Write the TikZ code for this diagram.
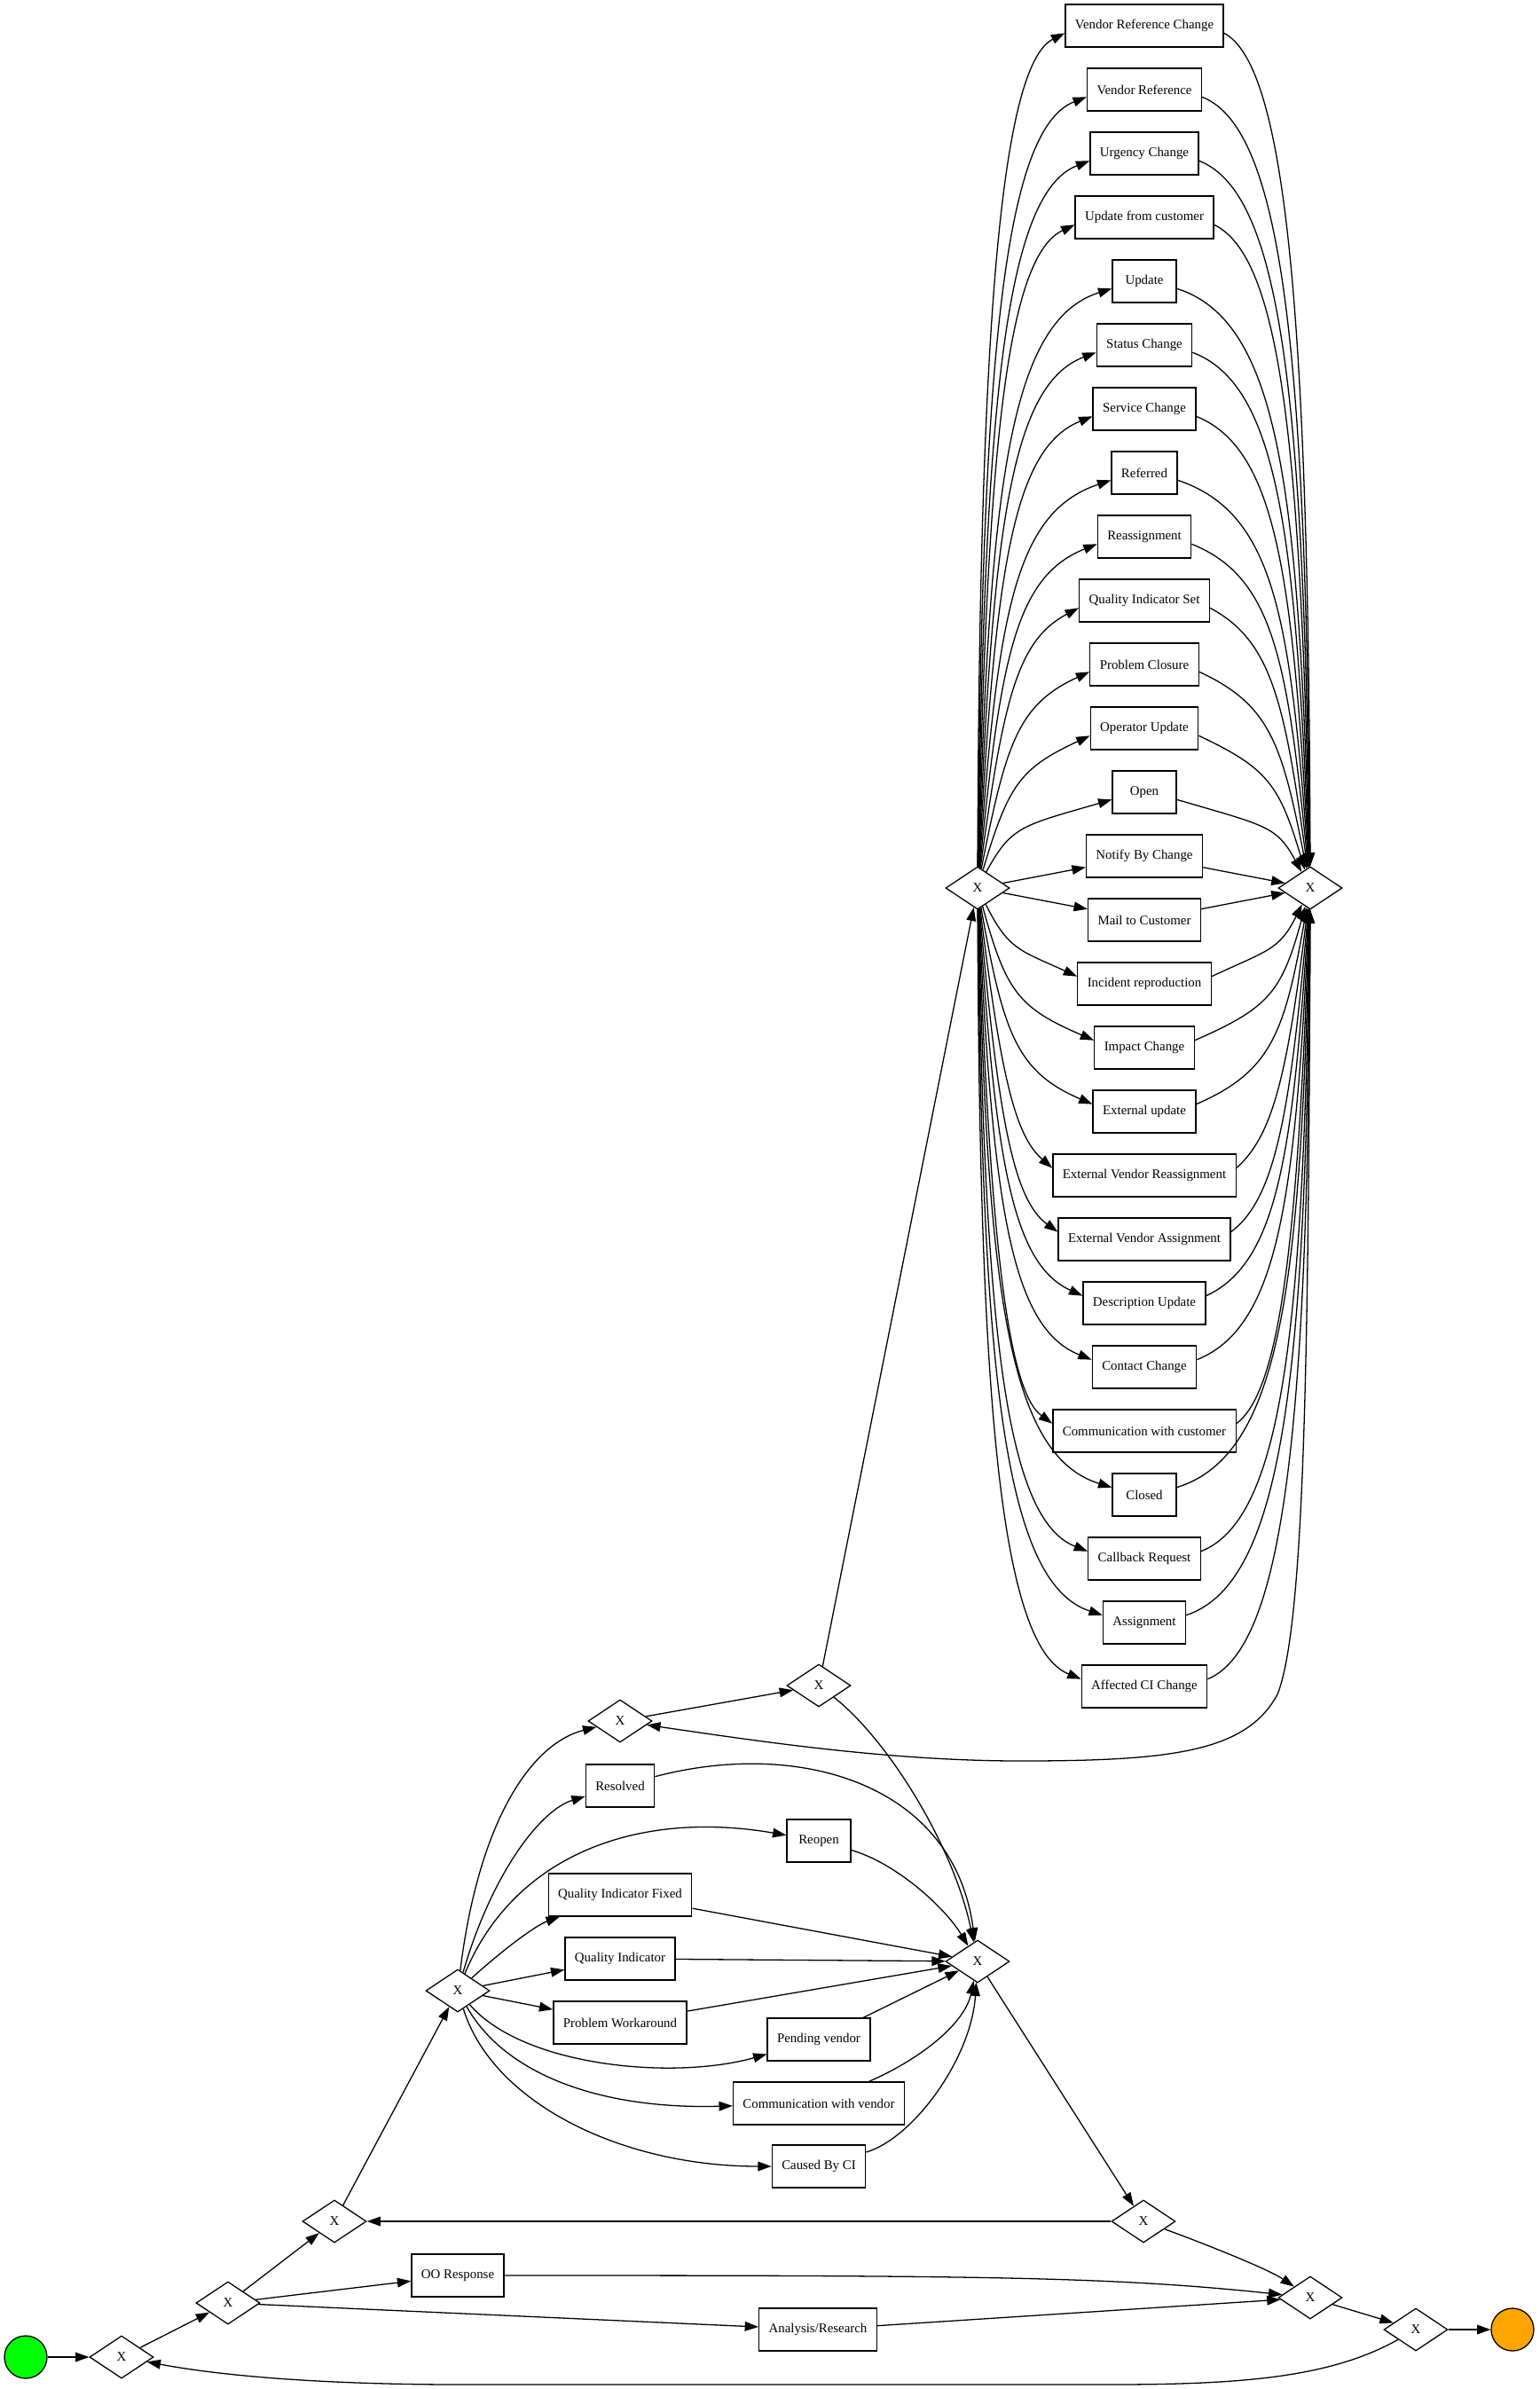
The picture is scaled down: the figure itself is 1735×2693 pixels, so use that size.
\documentclass[tikz,border=0pt]{standalone}
\usepackage{fontspec}
\setmainfont{Liberation Serif}
\usetikzlibrary{shapes.geometric,arrows.meta}
\definecolor{startgreen}{RGB}{0,255,0}
\definecolor{endorange}{RGB}{255,165,0}

\begin{document}
\begin{tikzpicture}[x=0.03cm, y=-0.03cm, >={Triangle[length=4.6mm,width=3.2mm]},
    task/.style={draw, rectangle, line width=1.1pt, fill=white, minimum width=2.16cm,
        minimum height=1.44cm, inner xsep=0.33cm, font=\fontsize{12.7}{15}\selectfont},
    gate/.style={draw, diamond, line width=1.1pt, fill=white, aspect=1.5, inner sep=0pt,
        minimum width=2.16cm, minimum height=1.44cm, font=\fontsize{12.7}{15}\selectfont},
    event/.style={draw, circle, line width=1.1pt, minimum size=1.44cm, inner sep=0pt},
    flow/.style={->, line width=1.1pt}]
    \useasboundingbox (0,0) rectangle (1735,2693);

    \node[event, fill=startgreen] (start) at (29,2657) {};
    \node[gate] (g1) at (137,2657) {X};
    \node[gate] (g2) at (257,2596) {X};
    \node[gate] (g3) at (377,2504) {X};
    \node[task] (oo) at (516,2565) {OO Response};
    \node[task] (ar) at (922,2626) {Analysis/Research};
    \node[gate] (g4) at (1289,2504) {X};
    \node[gate] (g5) at (1477,2590) {X};
    \node[gate] (g6) at (1596,2626) {X};
    \node[event, fill=endorange] (end) at (1705,2626) {};

    \node[gate] (g9) at (516,2244) {X};
    \node[gate] (g7) at (699,1940) {X};
    \node[gate] (g8) at (923,1900) {X};
    \node[task] (resolved) at (699,2013) {Resolved};
    \node[task] (reopen) at (923,2075) {Reopen};
    \node[task] (qif) at (699,2136) {Quality Indicator Fixed};
    \node[task] (qi) at (699,2208) {Quality Indicator};
    \node[task] (pw) at (699,2280) {Problem Workaround};
    \node[task] (pv) at (923,2299) {Pending vendor};
    \node[task] (cwv) at (923,2371) {Communication with vendor};
    \node[task] (cbci) at (923,2442) {Caused By CI};
    \node[gate] (g10) at (1102,2211) {X};

    \node[gate] (g11) at (1102,1001) {X};
    \node[gate] (g12) at (1477,1001) {X};
    \foreach \n/\t [count=\i from 0] in {vrc/Vendor Reference Change, vr/Vendor Reference,
        urg/Urgency Change, ufc/Update from customer, upd/Update, stc/Status Change,
        svc/Service Change, ref/Referred, reas/Reassignment, qis/Quality Indicator Set,
        pcl/Problem Closure, opu/Operator Update, opn/Open, nbc/Notify By Change,
        mtc/Mail to Customer, irp/Incident reproduction, imc/Impact Change,
        exu/External update, evr/External Vendor Reassignment, eva/External Vendor Assignment,
        deu/Description Update, coc/Contact Change, cwc/Communication with customer,
        clo/Closed, cbr/Callback Request, asg/Assignment, aci/Affected CI Change} {
        \node[task] (\n) at (1290,{29+72*\i}) {\t};
    }

    \draw[flow] (start) -- (g1);
    \draw[flow] (g1) -- (g2);
    \draw[flow] (g2) -- (g3);
    \draw[flow] (g2) -- (oo);
    \draw[flow] (g2) -- (ar);
    \draw[flow] (oo) .. controls (1100,2565) and (1250,2566) .. (g5);
    \draw[flow] (ar) -- (g5);
    \draw[flow] (g5) -- (g6);
    \draw[flow] (g6) -- (end);
    \draw[flow] (g6) .. controls (1500,2680) and (1400,2688) .. (1250,2688) -- (520,2688)
        .. controls (380,2688) and (260,2680) .. (g1);
    \draw[flow] (g3) -- (g9);
    \draw[flow] (g4) -- (g3);
    \draw[flow] (g10) -- (g4);
    \draw[flow] (g4) .. controls (1360,2530) and (1430,2558) .. (g5);

    \draw[flow] (g9) .. controls (540,2050) and (600,1965) .. (g7);
    \draw[flow] (g9) .. controls (555,2110) and (610,2040) .. (resolved);
    \draw[flow] (g9) .. controls (580,2090) and (720,2040) .. (reopen);
    \draw[flow] (g9) .. controls (570,2195) and (605,2170) .. (qif);
    \draw[flow] (g9) -- (qi);
    \draw[flow] (g9) -- (pw);
    \draw[flow] (g9) .. controls (590,2330) and (760,2345) .. (pv);
    \draw[flow] (g9) .. controls (570,2340) and (680,2378) .. (cwv);
    \draw[flow] (g9) .. controls (555,2370) and (700,2442) .. (cbci);

    \draw[flow] (resolved) .. controls (900,1960) and (1075,2010) .. (g10);
    \draw[flow] (reopen) .. controls (1010,2100) and (1065,2150) .. (g10);
    \draw[flow] (qif) -- (g10);
    \draw[flow] (qi) -- (g10);
    \draw[flow] (pw) -- (g10);
    \draw[flow] (pv) -- (g10);
    \draw[flow] (cwv) .. controls (1040,2320) and (1088,2280) .. (g10);
    \draw[flow] (cbci) .. controls (1030,2410) and (1095,2320) .. (g10);

    \draw[flow] (g7) -- (g8);
    \draw[flow] (g8) .. controls (1000,1960) and (1075,2080) .. (g10);
    \draw[flow] (g8) -- (g11);
    \draw[flow] (g12) .. controls (1475,1500) and (1472,1830) .. (1440,1910)
        .. controls (1405,1975) and (1320,1985) .. (1150,1985)
        .. controls (1000,1985) and (850,1962) .. (g7);

    \foreach \n [count=\i from 0] in {vrc,vr,urg,ufc,upd,stc,svc,ref,reas,qis,pcl,opu,opn} {
        \pgfmathsetmacro{\by}{29+72*\i}
        \pgfmathsetmacro{\dy}{1001-\by}
        \pgfmathsetmacro{\bnd}{min(45,0.35*\dy)}
        \draw[flow] (g11) .. controls ({1104+3*\i},{1001-0.65*\dy}) and ({1128+2*\i},{\by+\bnd})
            .. ([yshift=-0.25cm]\n.west);
        \draw[flow] ([yshift=-0.25cm]\n.east) .. controls ({1451-2*\i},{\by+\bnd})
            and ({1475-3*\i},{1001-0.65*\dy}) .. (g12);
    }
    \foreach \n in {nbc,mtc} {
        \draw[flow] (g11) -- (\n);
        \draw[flow] (\n) -- (g12);
    }
    \foreach \n [count=\i from 15] in {irp,imc,exu,evr,eva,deu,coc,cwc,clo,cbr,asg,aci} {
        \pgfmathsetmacro{\j}{26-\i}
        \pgfmathsetmacro{\by}{29+72*\i}
        \pgfmathsetmacro{\dy}{\by-1001}
        \pgfmathsetmacro{\bnd}{min(45,0.35*\dy)}
        \draw[flow] (g11) .. controls ({1104+3*\j},{1001+0.65*\dy}) and ({1128+2*\j},{\by-\bnd})
            .. ([yshift=0.25cm]\n.west);
        \draw[flow] ([yshift=0.25cm]\n.east) .. controls ({1451-2*\j},{\by-\bnd})
            and ({1475-3*\j},{1001+0.65*\dy}) .. (g12);
    }
\end{tikzpicture}
\end{document}
